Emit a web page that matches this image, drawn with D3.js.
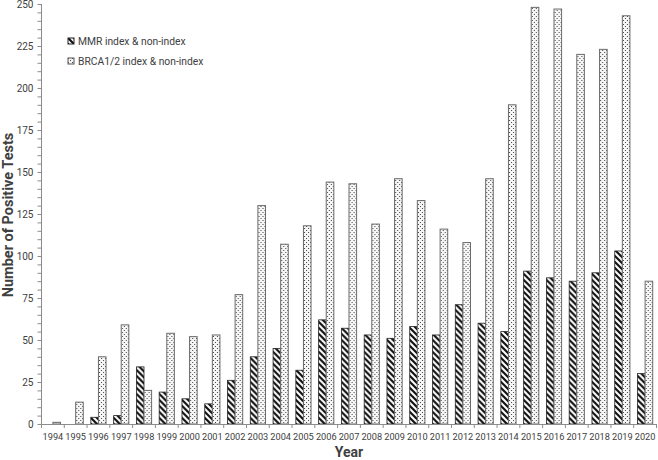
<!DOCTYPE html>
<html>
<head>
<meta charset="utf-8">
<script src="https://cdn.jsdelivr.net/npm/d3@7"></script>
<style>
  body { margin: 0; background: #fff; }
  svg text { font-family: Roboto, "Liberation Sans", sans-serif; fill: #404040; }
</style>
</head>
<body>
<div id="chart"></div>
<script>
'use strict';
const years = ['1994','1995','1996','1997','1998','1999','2000','2001','2002','2003','2004','2005','2006','2007',
    '2008','2009','2010','2011','2012','2013','2014','2015','2016','2017','2018','2019','2020'];
const mmrValues = [0, 0, 4, 5, 34, 19, 15, 12, 26, 40, 45, 32, 62, 57, 53, 51, 58, 53, 71, 60, 55, 91, 87, 85, 90, 103, 30];
const brcaValues = [1, 13, 40, 59, 20, 54, 52, 53, 77, 130, 107, 118, 144, 143, 119, 146, 133, 116, 108, 146, 190, 248, 247, 220, 223, 243, 85];
const seriesNames = ['MMR index & non-index', 'BRCA1/2 index & non-index'];
const yTicks = [0, 25, 50, 75, 100, 125, 150, 175, 200, 225, 250];

const width = 658, height = 460;
const svg = d3.select('#chart').append('svg')
    .attr('width', width)
    .attr('height', height);

// fill patterns
const defs = svg.append('defs');
const hatch = defs.append('pattern')
    .attr('id', 'hatch')
    .attr('patternUnits', 'userSpaceOnUse')
    .attr('width', 6).attr('height', 6);
hatch.append('rect').attr('width', 6).attr('height', 6).attr('fill', '#fff');
hatch.append('path')
    .attr('d', 'M-1,-1 L7,7 M-4,2 L1,7 M5,-1 L10,4')
    .attr('stroke', '#111').attr('stroke-width', 2.2);

const dots = defs.append('pattern')
    .attr('id', 'dots')
    .attr('patternUnits', 'userSpaceOnUse')
    .attr('width', 4).attr('height', 4);
dots.append('rect').attr('width', 4).attr('height', 4).attr('fill', '#f6f6f6');
dots.append('rect').attr('x', 0).attr('y', 0).attr('width', 1).attr('height', 1).attr('fill', '#444');
dots.append('rect').attr('x', 2).attr('y', 2).attr('width', 1).attr('height', 1).attr('fill', '#444');

const x = d3.scaleBand()
    .domain(years)
    .range([41.5, 656.5])
    .padding(0);

const xInner = d3.scaleBand()
    .domain(['mmr', 'brca'])
    .range([0, x.bandwidth()])
    .paddingInner(0)
    .paddingOuter(0.5);

const y = d3.scaleLinear()
    .domain([0, 250])
    .range([424, 4]);

// bars
const rows = years.map(function (yr, i) {
    return {year: yr, mmr: mmrValues[i], brca: brcaValues[i]};
});

const groups = svg.append('g').selectAll('g')
    .data(rows).enter()
    .append('g')
    .attr('transform', function (d) { return 'translate(' + x(d.year) + ',0)'; });

groups.filter(function (d) { return d.mmr > 0; })
    .append('rect')
    .attr('x', xInner('mmr'))
    .attr('y', function (d) { return y(d.mmr); })
    .attr('width', xInner.bandwidth())
    .attr('height', function (d) { return y(0) - y(d.mmr); })
    .attr('fill', 'url(#hatch)')
    .attr('stroke', '#222')
    .attr('stroke-width', 0.8);

groups.filter(function (d) { return d.brca > 0; })
    .append('rect')
    .attr('x', xInner('brca'))
    .attr('y', function (d) { return y(d.brca); })
    .attr('width', xInner.bandwidth())
    .attr('height', function (d) { return y(0) - y(d.brca); })
    .attr('fill', 'url(#dots)')
    .attr('stroke', '#6a6a6a')
    .attr('stroke-width', 1);

// y axis
const yAxis = svg.append('g')
    .attr('transform', 'translate(41.5,0)')
    .call(d3.axisLeft(y).tickValues(d3.range(0, 251, 5)).tickSize(4).tickFormat(''));
yAxis.selectAll('line, path').attr('stroke', '#8c8c8c');
yAxis.select('.domain').attr('d', 'M0,' + y(250) + 'V' + y(0));

const yLabels = svg.append('g')
    .attr('transform', 'translate(41.5,0)')
    .call(d3.axisLeft(y).tickValues(yTicks).tickSize(0).tickPadding(8));
yLabels.select('.domain').remove();
yLabels.selectAll('text')
    .style('font-size', '10px')
    .style('font-family', 'Roboto, sans-serif')
    .attr('fill', '#404040');

// x axis
const xAxis = svg.append('g')
    .attr('transform', 'translate(0,' + y(0) + ')')
    .call(d3.axisBottom(x).tickSize(0).tickPadding(9));
xAxis.select('.domain').attr('stroke', '#8c8c8c');
xAxis.selectAll('text')
    .style('font-size', '9.2px')
    .style('font-family', 'Roboto, sans-serif')
    .attr('fill', '#404040');

svg.append('g').selectAll('line')
    .data(years.concat(['end']))
    .enter().append('line')
    .attr('x1', function (d) { return d === 'end' ? x.range()[1] : x(d); })
    .attr('x2', function (d) { return d === 'end' ? x.range()[1] : x(d); })
    .attr('y1', y(0))
    .attr('y2', y(0) + 4)
    .attr('stroke', '#8c8c8c');

// axis titles
svg.append('text')
    .attr('x', (x.range()[0] + x.range()[1]) / 2)
    .attr('y', 457)
    .attr('text-anchor', 'middle')
    .style('font-size', '14px')
    .style('font-weight', 'bold')
    .text('Year');

svg.append('text')
    .attr('transform', 'translate(13,' + 215 + ') rotate(-90)')
    .attr('text-anchor', 'middle')
    .style('font-size', '14.5px')
    .style('font-weight', 'bold')
    .text('Number of Positive Tests');

// legend
const legend = svg.append('g').attr('transform', 'translate(68,38)');
const legendItems = legend.selectAll('g')
    .data(seriesNames).enter()
    .append('g')
    .attr('transform', function (d, i) { return 'translate(0,' + (i * 20) + ')'; });
legendItems.append('rect')
    .attr('width', 6).attr('height', 6)
    .attr('fill', function (d, i) { return i === 0 ? 'url(#hatch)' : 'url(#dots)'; })
    .attr('stroke', function (d, i) { return i === 0 ? '#222' : '#555'; })
    .attr('stroke-width', 1);
legendItems.append('text')
    .attr('x', 10)
    .attr('y', 3)
    .attr('dy', '0.35em')
    .style('font-size', '10.3px')
    .text(function (d) { return d; });
</script>
</body>
</html>
